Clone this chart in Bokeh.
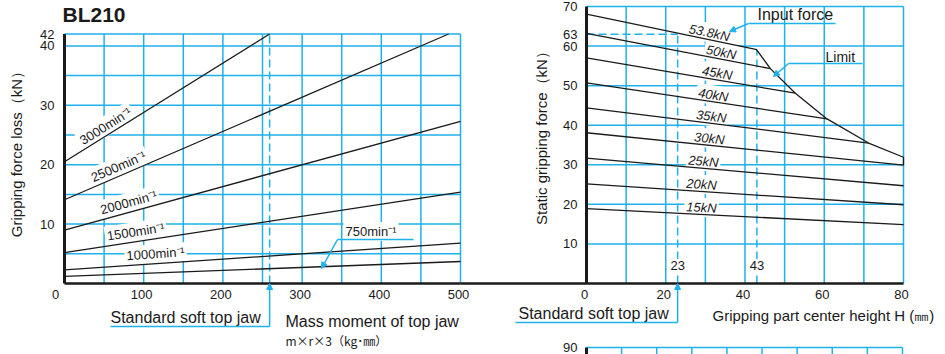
import numpy as np
from bokeh.plotting import figure
from bokeh.models import Range1d, Arrow, NormalHead
from bokeh.core.properties import value
from bokeh.embed import file_html
from bokeh.resources import INLINE

# ---------------- data : left chart (gripping force loss) ----------------
speed_labels = ["3000min⁻¹", "2500min⁻¹", "2000min⁻¹", "1500min⁻¹", "1000min⁻¹", "750min⁻¹"]
loss_x = [[0, 259], [0, 485], [0, 500], [0, 500], [0, 500], [0, 500]]
loss_y = [[20.5, 42.0], [14.1, 42.0], [9.0, 27.3], [5.2, 15.4], [2.3, 6.8], [1.2, 3.7]]
left_xticks = [100, 200, 300, 400, 500]
left_yticks = [10, 20, 30, 40, 42]
left_xgrid = [50, 100, 150, 200, 250, 300, 350, 400, 450, 500]
left_ygrid = [5, 10, 15, 20, 25, 30, 35, 40, 42]
left_xmax, left_ymax = 500, 42
std_jaw_moment = 259

# ---------------- data : right chart (static gripping force) ----------------
force_labels = ["53.8kN", "50kN", "45kN", "40kN", "35kN", "30kN", "25kN", "20kN", "15kN"]
grip_x = [[0, 43], [0, 46.4], [0, 52.7], [0, 60.7], [0, 71.2], [0, 80], [0, 80], [0, 80], [0, 80]]
grip_y = [[68.1, 59.1], [63.2, 54.3], [57.0, 48.1], [50.7, 41.6], [44.4, 35.5],
          [38.1, 29.9], [31.7, 24.7], [25.2, 19.9], [18.9, 14.9]]
limit_x = [42.9, 46.4, 52.7, 60.7, 71.2, 80.0, 80.0]
limit_y = [59.1, 54.3, 48.1, 41.6, 35.5, 31.9, 29.9]
right_xticks = [0, 20, 40, 60, 80]
right_yticks = [10, 20, 30, 40, 50, 60, 63, 70]
right_xgrid = [10, 20, 30, 40, 50, 60, 70, 80]
right_ygrid = [10, 20, 30, 40, 50, 60, 70]
right_xmax, right_ymax = 80, 70
std_jaw_height = 23
max_input_height = 43
std_grip_force = 63

# next chart (only its top edge is visible)
peek_xgrid = [10, 20, 30, 40, 50, 60, 70, 80, 90]
peek_top = 90

# ---------------- layout (canvas pixels) ----------------
W, H = 945, 354
OX, OY = 0, 0
LX0, LXS = 64.0, 0.792
LY0, LYS = 283.0, 5.94
RX0, RXS = 586.0, 3.9625
RY0, RYS = 283.0, 3.957
PX0, PXS = 586.0, 3.511
PY0 = 347.0

BLUE = "#1fb1ea"
INK = "#1a1a1a"
FONT = value("Liberation Sans")


def xr_range(x0, s):
    return Range1d((OX - x0) / s, (OX + W - x0) / s)


def yr_range(y0, s, base=0.0):
    return Range1d(base + (y0 - (OY + H)) / s, base + (y0 - OY) / s)


# helpers converting reference pixel positions to chart units (annotation placement)
def lx(px): return (px - LX0) / LXS
def ly(py): return (LY0 - py) / LYS
def rx(px): return (px - RX0) / RXS
def ry(py): return (RY0 - py) / RYS


p = figure(width=W, height=H, x_range=xr_range(LX0, LXS), y_range=yr_range(LY0, LYS),
           output_backend="svg", toolbar_location=None, tools="",
           x_axis_location=None, y_axis_location=None, min_border=0,
           outline_line_color=None, background_fill_color="white",
           border_fill_color="white")
p.xgrid.visible = False
p.ygrid.visible = False
p.extra_x_ranges = {"xr": xr_range(RX0, RXS), "xp": xr_range(PX0, PXS)}
p.extra_y_ranges = {"yr": yr_range(RY0, RYS), "yp": yr_range(PY0, RYS, base=peek_top)}
R = dict(x_range_name="xr", y_range_name="yr")
PK = dict(x_range_name="xp", y_range_name="yp")

# ---------------- grids ----------------
p.segment(x0=left_xgrid, y0=0, x1=left_xgrid, y1=left_ymax, line_color=BLUE, line_width=1.5)
p.segment(x0=0, y0=left_ygrid, x1=left_xmax, y1=left_ygrid, line_color=BLUE, line_width=1.5)
p.segment(x0=right_xgrid, y0=0, x1=right_xgrid, y1=right_ymax, line_color=BLUE, line_width=1.5, **R)
p.segment(x0=0, y0=right_ygrid, x1=right_xmax, y1=right_ygrid, line_color=BLUE, line_width=1.5, **R)
p.segment(x0=peek_xgrid, y0=peek_top, x1=peek_xgrid, y1=peek_top - 10, line_color=BLUE, line_width=1.5, **PK)
p.segment(x0=[0], y0=[peek_top], x1=[peek_xgrid[-1]], y1=[peek_top], line_color=BLUE, line_width=1.5, **PK)

# dashed reference lines
p.segment(x0=[std_jaw_moment], y0=[0], x1=[std_jaw_moment], y1=[left_ymax],
          line_color=BLUE, line_width=1.5, line_dash="8 4")
p.segment(x0=[std_jaw_height, max_input_height, 0], y0=[0, 0, std_grip_force],
          x1=[std_jaw_height, max_input_height, std_jaw_height],
          y1=[std_grip_force, grip_y[0][1], std_grip_force],
          line_color=BLUE, line_width=1.5, line_dash="8 4", **R)

# ---------------- curve labels (white boxes hide the grid) ----------------
lab_common = dict(text_font=FONT, text_color=INK, text_align="center", text_baseline="middle",
                  background_fill_color="white", padding=2)

lpos = [52, 68, 81, 90, 115]
lxs, lys, lang = [], [], []
for i, xv in enumerate(lpos):
    xs, ys = loss_x[i], loss_y[i]
    lxs.append(xv)
    lys.append(float(np.interp(xv, xs, ys)))
    slope = (ys[-1] - ys[0]) / (xs[-1] - xs[0])
    lang.append(float(np.arctan(slope * LYS / LXS)))
p.text(x=lxs, y=lys, text=speed_labels[:5], angle=lang, y_offset=-10,
       text_font_size="13px", **lab_common)
p.text(x=[lx(343)], y=[ly(231)], text=[speed_labels[5]], text_font=FONT, text_color=INK,
       text_font_size="13px", text_align="left", text_baseline="middle",
       background_fill_color="white", padding=2)

rpos = [31, 34, 33, 32, 31.5, 31, 29.5, 29, 29]
rxs, rys, rang = [], [], []
for i, xv in enumerate(rpos):
    xs, ys = grip_x[i], grip_y[i]
    rxs.append(xv)
    rys.append(float(np.interp(xv, xs, ys)))
    slope = (ys[-1] - ys[0]) / (xs[-1] - xs[0])
    rang.append(float(np.arctan(slope * RYS / RXS)))
p.text(x=rxs, y=rys, text=force_labels, angle=rang, y_offset=-7,
       text_font_size="13px", text_font_style="italic", **lab_common, **R)

p.text(x=[std_jaw_height, max_input_height], y=[ry(265)] * 2, text=["23", "43"],
       text_font_size="13px", **lab_common, **R)

# ---------------- curves ----------------
p.multi_line(xs=loss_x, ys=loss_y, line_color=INK, line_width=1.3)
p.multi_line(xs=grip_x, ys=grip_y, line_color=INK, line_width=1.3, **R)
p.line(x=limit_x, y=limit_y, line_color=INK, line_width=1.3, **R)

# ---------------- axes lines ----------------
gap_left = (LX0 + left_xmax * LXS - RX0) / RXS
p.segment(x0=[0], y0=[0], x1=[0], y1=[left_ymax], line_color=INK, line_width=3)
p.segment(x0=[0], y0=[0], x1=[left_xmax], y1=[0], line_color=INK, line_width=2.6)
p.segment(x0=[gap_left], y0=[0], x1=[right_xmax], y1=[0], line_color=INK, line_width=2.6, **R)
p.segment(x0=[0], y0=[0], x1=[0], y1=[right_ymax], line_color=INK, line_width=3, **R)
p.segment(x0=[0], y0=[peek_top], x1=[0], y1=[peek_top - 10], line_color=INK, line_width=3, **PK)

# ---------------- tick labels ----------------
tick = dict(text_font=FONT, text_color=INK, text_font_size="13px", text_baseline="middle")
p.text(x=left_xticks, y=0, text=[str(t) for t in left_xticks], y_offset=11, x_offset=-2,
       text_align="center", **tick)
p.text(x=[0], y=[0], text=["0"], y_offset=11, x_offset=-9, text_align="center", **tick)
p.text(x=0, y=left_yticks, text=[str(t) for t in left_yticks], x_offset=-10,
       text_align="right", **tick)
p.text(x=right_xticks, y=0, text=[str(t) for t in right_xticks], y_offset=11, x_offset=-2,
       text_align="center", **tick, **R)
p.text(x=0, y=right_yticks, text=[str(t) for t in right_yticks], x_offset=-9,
       text_align="right", **tick, **R)
p.text(x=[0], y=[peek_top], text=[str(peek_top)], x_offset=-9, text_align="right", **tick, **PK)

# ---------------- titles ----------------
p.text(x=[lx(62)], y=[ly(14)], text=["BL210"], text_font=FONT, text_font_style="bold",
       text_font_size="21px", text_color=INK, text_align="left", text_baseline="middle")
p.text(x=[lx(16)], y=[ly(150)], text=["Gripping force loss（kN）"], angle=np.pi / 2,
       text_font=FONT, text_font_size="15px", text_color=INK, text_align="center",
       text_baseline="middle")
p.text(x=[rx(541)], y=[ry(134)], text=["Static gripping force（kN）"], angle=np.pi / 2,
       text_font=FONT, text_font_size="15px", text_color=INK, text_align="center",
       text_baseline="middle", **R)

big = dict(text_font=FONT, text_font_size="16px", text_color=INK, text_align="left",
           text_baseline="middle")
p.text(x=[lx(110)], y=[ly(317)], text=["Standard soft top jaw"], **big)
p.text(x=[lx(285)], y=[ly(321)], text=["Mass moment of top jaw"], **big)
p.text(x=[lx(285)], y=[ly(340)], text=["m×r×3（kg･㎜）"], text_font=value("Noto Sans CJK JP"),
       text_font_size="12px", text_color=INK, text_align="left", text_baseline="middle")
p.text(x=[rx(518)], y=[ry(313)], text=["Standard soft top jaw"], **big, **R)
p.text(x=[rx(712)], y=[ry(315)], text=["Gripping part center height H (㎜)"], text_font=FONT,
       text_font_size="15px", text_color=INK, text_align="left", text_baseline="middle", **R)
p.text(x=[rx(757)], y=[ry(14)], text=["Input force"], **big, **R)
p.text(x=[rx(825)], y=[ry(56)], text=["Limit"], text_font=FONT, text_font_size="14px",
       text_color=INK, text_align="left", text_baseline="middle", **R)

# ---------------- leaders ----------------
p.segment(x0=[lx(337)], y0=[ly(239)], x1=[lx(413)], y1=[ly(239)], line_color=BLUE, line_width=1.5)
p.segment(x0=[lx(110)], y0=[ly(326)], x1=[std_jaw_moment], y1=[ly(326)], line_color=BLUE, line_width=1.5)
p.segment(x0=[rx(515), rx(748), rx(788)], y0=[ry(322), ry(23), ry(63)],
          x1=[std_jaw_height, rx(835), rx(862)], y1=[ry(322), ry(23), ry(63)],
          line_color=BLUE, line_width=1.5, **R)


def head():
    return NormalHead(size=6, fill_color=BLUE, line_color=BLUE, line_width=1)


p.add_layout(Arrow(end=head(), x_start=lx(337), y_start=ly(239), x_end=lx(321), y_end=ly(268),
                   line_color=BLUE, line_width=1.5))
p.add_layout(Arrow(end=head(), x_start=std_jaw_moment, y_start=ly(326), x_end=std_jaw_moment,
                   y_end=0, line_color=BLUE, line_width=1.5))
p.add_layout(Arrow(end=head(), x_start=std_jaw_height, y_start=ry(322), x_end=std_jaw_height,
                   y_end=0, line_color=BLUE, line_width=1.5, **R))
p.add_layout(Arrow(end=head(), x_start=rx(748), y_start=ry(23), x_end=rx(729), y_end=ry(31),
                   line_color=BLUE, line_width=1.5, **R))
p.add_layout(Arrow(end=head(), x_start=rx(788), y_start=ry(63), x_end=rx(773), y_end=ry(76),
                   line_color=BLUE, line_width=1.5, **R))

with open("out.html", "w", encoding="utf-8") as f:
    f.write(file_html(p, INLINE, title="BL210"))
